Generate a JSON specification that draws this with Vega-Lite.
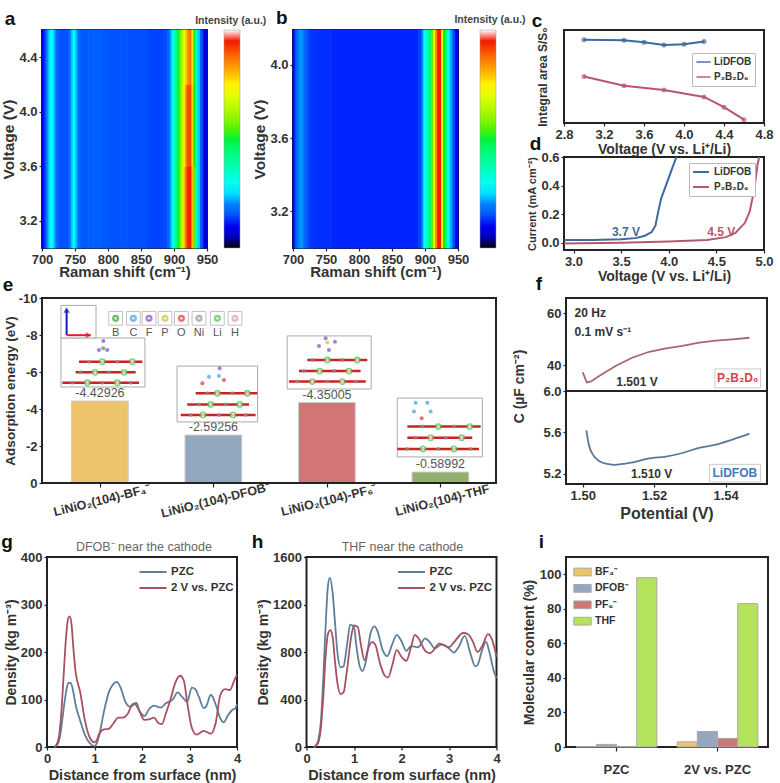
{
"$schema":"https://vega.github.io/schema/vega-lite/v6.json",
"background":"white",
"padding":{"left":0,"top":8,"right":0,"bottom":0},
"config":{
 "view":{"stroke":"#222","strokeWidth":2},
 "font":"Liberation Sans",
 "axis":{"grid":false,"labelFont":"Liberation Sans","labelFontWeight":"bold","labelFontSize":13,"labelColor":"#333","titleFont":"Liberation Sans","titleFontWeight":"bold","titleFontSize":14,"titleColor":"#333","tickColor":"#222","tickSize":3,"tickWidth":1.2,"domain":false,"labelPadding":2,"labelFlush":false,"labelOverlap":false},
 "legend":{"labelFont":"Liberation Sans","labelFontWeight":"bold","labelColor":"#333"}
},
"bounds":"flush","spacing":527,
"resolve":{"scale":{"color":"independent"},"legend":{"color":"independent"}},
"vconcat":[
 {"bounds":"flush","spacing":268,
 "resolve":{"scale":{"color":"independent"},"legend":{"color":"independent"}},
 "vconcat":[
 {"bounds":"flush","spacing":522,
  "resolve":{"scale":{"color":"independent"},"legend":{"color":"independent"}},
  "hconcat":[
  {"bounds":"flush","spacing":86,
   "resolve":{"scale":{"color":"independent"},"legend":{"color":"independent"}},
   "hconcat":[
   {"width":165,"height":218,
    "layer":[
     {"data":{"name":"heatA","values":[
      {"x":700,"x2":703,"v":3.0,"v2":4.6,"i":0.1},{"x":703,"x2":706,"v":3.0,"v2":4.6,"i":0.13},{"x":706,"x2":709,"v":3.0,"v2":4.6,"i":0.18},{"x":709,"x2":712,"v":3.0,"v2":4.6,"i":0.23},{"x":712,"x2":716,"v":3.0,"v2":4.6,"i":0.27},{"x":716,"x2":719,"v":3.0,"v2":4.6,"i":0.26},{"x":719,"x2":722,"v":3.0,"v2":4.6,"i":0.21},{"x":722,"x2":726,"v":3.0,"v2":4.6,"i":0.17},{"x":726,"x2":735,"v":3.0,"v2":4.6,"i":0.15},{"x":735,"x2":741,"v":3.0,"v2":4.6,"i":0.155},{"x":741,"x2":745,"v":3.0,"v2":4.6,"i":0.19},{"x":745,"x2":748,"v":3.0,"v2":4.6,"i":0.25},{"x":748,"x2":751,"v":3.0,"v2":4.6,"i":0.27},{"x":751,"x2":754,"v":3.0,"v2":4.6,"i":0.23},{"x":754,"x2":758,"v":3.0,"v2":4.6,"i":0.18},{"x":758,"x2":770,"v":3.0,"v2":4.6,"i":0.16},{"x":770,"x2":790,"v":3.0,"v2":4.6,"i":0.165},{"x":790,"x2":800,"v":3.0,"v2":4.6,"i":0.16},{"x":800,"x2":830,"v":3.0,"v2":4.6,"i":0.155},{"x":830,"x2":860,"v":3.0,"v2":4.6,"i":0.15},{"x":860,"x2":885,"v":3.0,"v2":4.6,"i":0.14},{"x":885,"x2":890,"v":3.0,"v2":4.6,"i":0.145},{"x":890,"x2":894,"v":3.0,"v2":4.6,"i":0.17},{"x":894,"x2":897,"v":3.0,"v2":4.6,"i":0.22},{"x":897,"x2":900,"v":3.0,"v2":4.6,"i":0.29},{"x":900,"x2":903,"v":3.0,"v2":4.6,"i":0.36},{"x":903,"x2":906,"v":3.0,"v2":4.6,"i":0.44},{"x":906,"x2":909,"v":3.0,"v2":4.6,"i":0.5},{"x":909,"x2":912,"v":3.0,"v2":4.6,"i":0.58},
      {"x":912,"x2":915,"v":3.0,"v2":3.6,"i":0.68},{"x":915,"x2":918,"v":3.0,"v2":3.6,"i":0.8},{"x":918,"x2":921,"v":3.0,"v2":3.6,"i":0.9},{"x":921,"x2":924,"v":3.0,"v2":3.6,"i":0.94},{"x":924,"x2":927,"v":3.0,"v2":3.6,"i":0.95},{"x":927,"x2":930,"v":3.0,"v2":3.6,"i":0.8},{"x":930,"x2":933,"v":3.0,"v2":3.6,"i":0.55},{"x":933,"x2":936,"v":3.0,"v2":3.6,"i":0.35},
      {"x":912,"x2":915,"v":3.6,"v2":4.2,"i":0.66},{"x":915,"x2":918,"v":3.6,"v2":4.2,"i":0.76},{"x":918,"x2":921,"v":3.6,"v2":4.2,"i":0.87},{"x":921,"x2":924,"v":3.6,"v2":4.2,"i":0.91},{"x":924,"x2":927,"v":3.6,"v2":4.2,"i":0.91},{"x":927,"x2":930,"v":3.6,"v2":4.2,"i":0.78},{"x":930,"x2":933,"v":3.6,"v2":4.2,"i":0.52},{"x":933,"x2":936,"v":3.6,"v2":4.2,"i":0.34},
      {"x":912,"x2":915,"v":4.2,"v2":4.6,"i":0.64},{"x":915,"x2":918,"v":4.2,"v2":4.6,"i":0.72},{"x":918,"x2":921,"v":4.2,"v2":4.6,"i":0.8},{"x":921,"x2":924,"v":4.2,"v2":4.6,"i":0.85},{"x":924,"x2":927,"v":4.2,"v2":4.6,"i":0.87},{"x":927,"x2":930,"v":4.2,"v2":4.6,"i":0.76},{"x":930,"x2":933,"v":4.2,"v2":4.6,"i":0.5},{"x":933,"x2":936,"v":4.2,"v2":4.6,"i":0.33},
      {"x":936,"x2":940,"v":3.0,"v2":4.6,"i":0.24},{"x":940,"x2":945,"v":3.0,"v2":4.6,"i":0.15},{"x":945,"x2":950,"v":3.0,"v2":4.6,"i":0.08}]},
      "mark":{"type":"rect","strokeWidth":0.8},
      "encoding":{
       "x":{"field":"x","type":"quantitative","scale":{"domain":[700,950],"nice":false},"axis":{"values":[700,750,800,850,900,950],"tickCount":12,"labelOverlap":false,"title":"Raman shift (cm⁻¹)","titleFontSize":15,"titlePadding":-2}},
       "x2":{"field":"x2"},
       "y":{"field":"v","type":"quantitative","scale":{"domain":[3.0,4.6],"nice":false},"axis":{"values":[3.2,3.6,4.0,4.4],"tickCount":12,"labelOverlap":false,"format":".1f","title":"Voltage (V)","titleFontSize":15.5,"titlePadding":2}},
       "y2":{"field":"v2"},
       "stroke":{"field":"i","type":"quantitative","legend":null,"scale":{"domain":[0,0.018,0.022,0.06,0.11,0.2,0.27,0.4,0.52,0.74,0.84,0.93,0.975,0.985,1],"range":["#000000","#000000","#00008c","#0000c8","#0000ff","#0080ff","#00ffff","#00ff9a","#00f000","#ffff00","#ff9000","#f52000","#f01000","#ffffff","#ffffff"]}},
       "color":{"field":"i","type":"quantitative","scale":{"domain":[0,0.018,0.022,0.06,0.11,0.2,0.27,0.4,0.52,0.74,0.84,0.93,0.975,0.985,1],"range":["#000000","#000000","#00008c","#0000c8","#0000ff","#0080ff","#00ffff","#00ff9a","#00f000","#ffff00","#ff9000","#f52000","#f01000","#ffffff","#ffffff"]},
        "legend":{"orient":"none","legendX":182,"legendY":0,"title":null,"gradientLength":218,"gradientThickness":16,"labelExpr":"''","tickCount":50,"gradientStrokeColor":"#999","gradientStrokeWidth":0.5}}
      }},
     {"data":{"values":[{"x":651.5,"y":4.68,"t":"a"}]},"mark":{"type":"text","fontSize":19,"fontWeight":"bold","color":"#111"},"encoding":{"x":{"field":"x","type":"quantitative"},"y":{"field":"y","type":"quantitative"},"text":{"field":"t"}}},
     {"data":{"values":[{"x":986,"y":4.668,"t":"Intensity (a.u.)"}]},"mark":{"type":"text","fontSize":10.5,"fontWeight":"bold","color":"#444"},"encoding":{"x":{"field":"x","type":"quantitative"},"y":{"field":"y","type":"quantitative"},"text":{"field":"t"}}}
    ]},
   {"width":165,"height":218,
    "layer":[
     {"data":{"name":"heatB","values":[
      {"x":700,"x2":703,"i":0.1},{"x":703,"x2":706,"i":0.15},{"x":706,"x2":710,"i":0.19},{"x":710,"x2":716,"i":0.21},{"x":716,"x2":720,"i":0.18},{"x":720,"x2":725,"i":0.15},{"x":725,"x2":735,"i":0.13},{"x":735,"x2":760,"i":0.125},{"x":760,"x2":890,"i":0.12},{"x":890,"x2":895,"i":0.14},{"x":895,"x2":898,"i":0.2},{"x":898,"x2":901,"i":0.28},{"x":901,"x2":904,"i":0.34},{"x":904,"x2":907,"i":0.4},{"x":907,"x2":910,"i":0.47},{"x":910,"x2":913,"i":0.56},{"x":913,"x2":916,"i":0.72},{"x":916,"x2":919,"i":0.85},{"x":919,"x2":922,"i":0.94},{"x":922,"x2":925,"i":0.93},{"x":925,"x2":928,"i":0.7},{"x":928,"x2":931,"i":0.52},{"x":931,"x2":934,"i":0.42},{"x":934,"x2":938,"i":0.3},{"x":938,"x2":942,"i":0.22},{"x":942,"x2":946,"i":0.15},{"x":946,"x2":950,"i":0.11}]},
      "mark":{"type":"rect","strokeWidth":0.8},
      "encoding":{
       "x":{"field":"x","type":"quantitative","scale":{"domain":[700,950],"nice":false},"axis":{"values":[700,750,800,850,900,950],"tickCount":12,"labelOverlap":false,"title":"Raman shift (cm⁻¹)","titleFontSize":15,"titlePadding":-2}},
       "x2":{"field":"x2"},
       "y":{"datum":3.0,"type":"quantitative","scale":{"domain":[3.0,4.19],"nice":false},"axis":{"values":[3.2,3.6,4.0],"tickCount":12,"labelOverlap":false,"format":".1f","title":"Voltage (V)","titleFontSize":15.5,"titlePadding":2}},
       "y2":{"datum":4.19},
       "stroke":{"field":"i","type":"quantitative","legend":null,"scale":{"domain":[0,0.018,0.022,0.06,0.11,0.2,0.27,0.4,0.52,0.74,0.84,0.93,0.975,0.985,1],"range":["#000000","#000000","#00008c","#0000c8","#0000ff","#0080ff","#00ffff","#00ff9a","#00f000","#ffff00","#ff9000","#f52000","#f01000","#ffffff","#ffffff"]}},
       "color":{"field":"i","type":"quantitative","scale":{"domain":[0,0.018,0.022,0.06,0.11,0.2,0.27,0.4,0.52,0.74,0.84,0.93,0.975,0.985,1],"range":["#000000","#000000","#00008c","#0000c8","#0000ff","#0080ff","#00ffff","#00ff9a","#00f000","#ffff00","#ff9000","#f52000","#f01000","#ffffff","#ffffff"]},
        "legend":{"orient":"none","legendX":187,"legendY":0,"title":null,"gradientLength":218,"gradientThickness":16,"labelExpr":"''","tickCount":50,"gradientStrokeColor":"#999","gradientStrokeWidth":0.5}}
      }},
     {"data":{"values":[{"x":683,"y":4.255,"t":"b"}]},"mark":{"type":"text","fontSize":19,"fontWeight":"bold","color":"#111"},"encoding":{"x":{"field":"x","type":"quantitative"},"y":{"field":"y","type":"quantitative"},"text":{"field":"t"}}},
     {"data":{"values":[{"x":998.5,"y":4.245,"t":"Intensity (a.u.)"}]},"mark":{"type":"text","fontSize":10.5,"fontWeight":"bold","color":"#444"},"encoding":{"x":{"field":"x","type":"quantitative"},"y":{"field":"y","type":"quantitative"},"text":{"field":"t"}}}
    ]}
  ]},
  {"bounds":"flush","spacing":34,
   "resolve":{"scale":{"color":"independent"},"legend":{"color":"independent"}},
   "vconcat":[
   {"width":200,"height":93,
    "layer":[
     {"data":{"values":[
      {"v":3.0,"s":0.894,"k":"LiDFOB"},{"v":3.4,"s":0.89,"k":"LiDFOB"},{"v":3.6,"s":0.869,"k":"LiDFOB"},{"v":3.8,"s":0.84,"k":"LiDFOB"},{"v":4.0,"s":0.847,"k":"LiDFOB"},{"v":4.2,"s":0.876,"k":"LiDFOB"},
      {"v":3.0,"s":0.5,"k":"P₂B₂D₆"},{"v":3.4,"s":0.4,"k":"P₂B₂D₆"},{"v":3.8,"s":0.356,"k":"P₂B₂D₆"},{"v":4.2,"s":0.28,"k":"P₂B₂D₆"},{"v":4.4,"s":0.17,"k":"P₂B₂D₆"},{"v":4.6,"s":0.036,"k":"P₂B₂D₆"}]},
      "layer":[
       {"mark":{"type":"line","strokeWidth":2},"encoding":{
        "x":{"field":"v","type":"quantitative","scale":{"domain":[2.8,4.8],"nice":false},"axis":{"values":[2.8,3.2,3.6,4.0,4.4,4.8],"tickCount":12,"labelOverlap":false,"format":".1f","title":"Voltage (V vs. Li⁺/Li)","titlePadding":1}},
        "y":{"field":"s","type":"quantitative","scale":{"domain":[0,1],"nice":false},"axis":{"labels":false,"ticks":false,"title":"Integral area S/S₀","titleFontSize":12,"titlePadding":15}},
        "color":{"field":"k","type":"nominal","scale":{"domain":["LiDFOB","P₂B₂D₆"],"range":["#3d6a9e","#b5596a"]},"legend":{"orient":"none","legendX":128,"legendY":23,"title":null,"fillColor":"white","strokeColor":"#bbb","padding":3,"labelFontSize":10,"symbolType":"stroke","symbolSize":200,"symbolStrokeWidth":2,"clipHeight":12,"rowPadding":3,"labelOffset":2}}}},
       {"mark":{"type":"point","filled":true,"size":25},"encoding":{"x":{"field":"v","type":"quantitative"},"y":{"field":"s","type":"quantitative"},"color":{"field":"k","type":"nominal"}}}
      ]},
     {"data":{"values":[{"x":2.53,"y":1.1,"t":"c"}]},"mark":{"type":"text","fontSize":19,"fontWeight":"bold","color":"#111"},"encoding":{"x":{"field":"x","type":"quantitative"},"y":{"field":"y","type":"quantitative"},"text":{"field":"t"}}}
    ]},
   {"width":200,"height":93,
    "layer":[
     {"data":{"values":[
      {"v":2.9,"c":0.02,"k":"LiDFOB"},{"v":3.2,"c":0.02,"k":"LiDFOB"},{"v":3.5,"c":0.025,"k":"LiDFOB"},{"v":3.65,"c":0.033,"k":"LiDFOB"},{"v":3.75,"c":0.05,"k":"LiDFOB"},{"v":3.82,"c":0.075,"k":"LiDFOB"},{"v":3.86,"c":0.12,"k":"LiDFOB"},{"v":3.89,"c":0.22,"k":"LiDFOB"},{"v":3.92,"c":0.31,"k":"LiDFOB"},{"v":3.97,"c":0.4,"k":"LiDFOB"},{"v":4.03,"c":0.51,"k":"LiDFOB"},{"v":4.08,"c":0.6,"k":"LiDFOB"},
      {"v":2.9,"c":-0.005,"k":"P₂B₂D₆"},{"v":3.5,"c":0,"k":"P₂B₂D₆"},{"v":4.0,"c":0.01,"k":"P₂B₂D₆"},{"v":4.4,"c":0.02,"k":"P₂B₂D₆"},{"v":4.6,"c":0.04,"k":"P₂B₂D₆"},{"v":4.7,"c":0.07,"k":"P₂B₂D₆"},{"v":4.8,"c":0.14,"k":"P₂B₂D₆"},{"v":4.85,"c":0.22,"k":"P₂B₂D₆"},{"v":4.9,"c":0.38,"k":"P₂B₂D₆"},{"v":4.93,"c":0.54,"k":"P₂B₂D₆"},{"v":4.95,"c":0.6,"k":"P₂B₂D₆"}]},
      "mark":{"type":"line","strokeWidth":2,"clip":true},"encoding":{
       "x":{"field":"v","type":"quantitative","scale":{"domain":[2.9,5.0],"nice":false},"axis":{"values":[3.0,3.5,4.0,4.5,5.0],"tickCount":12,"labelOverlap":false,"format":".1f","title":"Voltage (V vs. Li⁺/Li)","titlePadding":1}},
       "y":{"field":"c","type":"quantitative","scale":{"domain":[-0.05,0.6],"nice":false},"axis":{"values":[0,0.2,0.4,0.6],"tickCount":12,"labelOverlap":false,"format":".1f","title":"Current (mA cm⁻²)","titleFontSize":11,"titlePadding":3}},
       "color":{"field":"k","type":"nominal","scale":{"domain":["LiDFOB","P₂B₂D₆"],"range":["#3d6a9e","#b5596a"]},"legend":{"orient":"none","legendX":125,"legendY":6,"title":null,"fillColor":"white","strokeColor":"#bbb","padding":3,"labelFontSize":10,"symbolType":"stroke","symbolSize":250,"symbolStrokeWidth":2,"clipHeight":12,"rowPadding":3}}}},
     {"data":{"values":[{"x":3.55,"y":0.075,"t":"3.7 V","k":"LiDFOB"},{"x":4.55,"y":0.075,"t":"4.5 V","k":"P₂B₂D₆"}]},"mark":{"type":"text","fontSize":12,"fontWeight":"bold"},"encoding":{"x":{"field":"x","type":"quantitative"},"y":{"field":"y","type":"quantitative"},"text":{"field":"t"},"color":{"field":"k","type":"nominal","legend":null}}},
     {"data":{"values":[{"x":2.6,"y":0.69,"t":"d"}]},"mark":{"type":"text","fontSize":19,"fontWeight":"bold","color":"#111"},"encoding":{"x":{"field":"x","type":"quantitative"},"y":{"field":"y","type":"quantitative"},"text":{"field":"t"}}}
    ]}
  ]}
 ]},
 {"bounds":"flush","spacing":70,
  "resolve":{"scale":{"color":"independent"},"legend":{"color":"independent"}},
  "hconcat":[
  {"width":454,"height":185,"view":{"stroke":"#222","strokeWidth":2},
   "layer":[
    {"data":{"values":[
     {"n":"BF4","x0":0.26,"x1":0.76,"e":-4.42926,"t":"-4.42926","xc":0.51},{"n":"DFOB","x0":1.26,"x1":1.76,"e":-2.59256,"t":"-2.59256","xc":1.51},{"n":"PF6","x0":2.26,"x1":2.76,"e":-4.35005,"t":"-4.35005","xc":2.51},{"n":"THF","x0":3.26,"x1":3.76,"e":-0.58992,"t":"-0.58992","xc":3.51}]},
     "layer":[
      {"mark":{"type":"rect","stroke":"#ccc","strokeWidth":1},"encoding":{
       "x":{"field":"x0","type":"quantitative","scale":{"domain":[0,4],"nice":false},"axis":{"values":[0.51,1.51,2.51,3.51],"tickCount":12,"labelOverlap":false,"labelExpr":"['LiNiO₂(104)-BF₄⁻','LiNiO₂(104)-DFOB⁻','LiNiO₂(104)-PF₆⁻','LiNiO₂(104)-THF'][floor(datum.value)]","labelAngle":-14,"labelAlign":"center","labelBaseline":"top","labelFontSize":12.5,"labelPadding":7,"title":null,"tickSize":4}},
       "x2":{"field":"x1"},
       "y":{"field":"e","type":"quantitative","scale":{"domain":[0,-10],"nice":false},"axis":{"values":[0,-2,-4,-6,-8,-10],"tickCount":12,"labelOverlap":false,"labelExpr":"toString(datum.value)","title":"Adsorption energy (eV)","titleFontSize":13.5,"titlePadding":1}},
       "y2":{"datum":0},
       "color":{"field":"n","type":"nominal","legend":null,"scale":{"domain":["BF4","DFOB","PF6","THF","B","C","F","P","O","Ni","Li","H"],"range":["#eec46a","#93a8bf","#d27576","#94b071","#2ca02c","#38a0d8","#8a40c8","#c8c030","#e03030","#909090","#50c050","#d0a0a0"]}}}},
      {"mark":{"type":"text","dy":-8,"fontSize":12.5,"color":"#555"},"encoding":{"x":{"field":"xc","type":"quantitative"},"y":{"field":"e","type":"quantitative"},"text":{"field":"t"}}}
     ]},
    {"data":{"values":[{"x":0.167,"x2":0.907,"y":-7.84,"y2":-5.19},{"x":1.19,"x2":1.9,"y":-6.32,"y2":-3.3},{"x":2.16,"x2":2.9,"y":-7.95,"y2":-5.08},{"x":3.13,"x2":3.88,"y":-4.59,"y2":-1.41},{"x":0.167,"x2":0.476,"y":-9.6,"y2":-7.84}]},
     "mark":{"type":"rect","fill":"white","stroke":"#aaa","strokeWidth":1},"encoding":{"x":{"field":"x","type":"quantitative"},"x2":{"field":"x2"},"y":{"field":"y","type":"quantitative"},"y2":{"field":"y2"}}},
    {"data":{"values":[{"x":0.326,"x2":0.884,"y":-6.56},{"x":0.296,"x2":0.825,"y":-5.98},{"x":0.179,"x2":0.855,"y":-5.42},{"x":1.354,"x2":1.897,"y":-4.85},{"x":1.28,"x2":1.824,"y":-4.25},{"x":1.222,"x2":1.882,"y":-3.68},{"x":2.338,"x2":2.866,"y":-6.65},{"x":2.264,"x2":2.807,"y":-6.05},{"x":2.176,"x2":2.852,"y":-5.48},{"x":3.219,"x2":3.865,"y":-3.05},{"x":3.219,"x2":3.791,"y":-2.45},{"x":3.13,"x2":3.85,"y":-1.84}]},
     "mark":{"type":"rule","color":"#cc2222","strokeWidth":2.5},"encoding":{"x":{"field":"x","type":"quantitative"},"x2":{"field":"x2"},"y":{"field":"y","type":"quantitative"}}},
    {"data":{"values":[{"x":0.414,"y":-6.56,"n":"Ni"},{"x":0.664,"y":-6.56,"n":"Ni"},{"x":0.34,"y":-5.98,"n":"Ni"},{"x":0.59,"y":-5.98,"n":"Ni"},{"x":0.267,"y":-5.42,"n":"Ni"},{"x":0.531,"y":-5.42,"n":"Ni"},{"x":0.781,"y":-5.42,"n":"Ni"},{"x":1.457,"y":-4.85,"n":"Ni"},{"x":1.677,"y":-4.85,"n":"Ni"},{"x":1.383,"y":-4.25,"n":"Ni"},{"x":1.618,"y":-4.25,"n":"Ni"},{"x":1.31,"y":-3.68,"n":"Ni"},{"x":1.559,"y":-3.68,"n":"Ni"},{"x":1.794,"y":-3.68,"n":"Ni"},{"x":2.382,"y":-6.65,"n":"Ni"},{"x":2.646,"y":-6.65,"n":"Ni"},{"x":2.308,"y":-6.05,"n":"Ni"},{"x":2.573,"y":-6.05,"n":"Ni"},{"x":2.25,"y":-5.48,"n":"Ni"},{"x":2.514,"y":-5.48,"n":"Ni"},{"x":2.763,"y":-5.48,"n":"Ni"},{"x":3.351,"y":-3.05,"n":"Ni"},{"x":3.63,"y":-3.05,"n":"Ni"},{"x":3.292,"y":-2.45,"n":"Ni"},{"x":3.556,"y":-2.45,"n":"Ni"},{"x":3.219,"y":-1.84,"n":"Ni"},{"x":3.492,"y":-1.84,"n":"Ni"},{"x":3.776,"y":-1.84,"n":"Ni"},
     {"x":0.502,"y":-7.19,"n":"F"},{"x":0.575,"y":-7.19,"n":"F"},{"x":0.54,"y":-7.28,"n":"B"},{"x":0.54,"y":-7.68,"n":"F"},{"x":1.413,"y":-5.39,"n":"O"},{"x":1.471,"y":-5.75,"n":"C"},{"x":1.559,"y":-5.78,"n":"C"},{"x":1.565,"y":-6.2,"n":"F"},{"x":1.603,"y":-5.57,"n":"O"},{"x":2.514,"y":-7.59,"n":"P"},{"x":2.44,"y":-7.41,"n":"F"},{"x":2.581,"y":-7.64,"n":"F"},{"x":2.499,"y":-7.82,"n":"F"},{"x":2.528,"y":-7.19,"n":"F"},{"x":3.292,"y":-4.34,"n":"C"},{"x":3.395,"y":-4.34,"n":"C"},{"x":3.424,"y":-3.86,"n":"C"},{"x":3.345,"y":-3.5,"n":"O"},{"x":3.277,"y":-3.86,"n":"C"}]},
     "mark":{"type":"point","filled":true,"size":16},"encoding":{"x":{"field":"x","type":"quantitative"},"y":{"field":"y","type":"quantitative"},"color":{"field":"n","type":"nominal","legend":null}}},
    {"data":{"values":[{"x":0.531,"y":-6.56},{"x":0.796,"y":-6.56},{"x":0.467,"y":-5.98},{"x":0.722,"y":-5.98},{"x":0.399,"y":-5.42},{"x":0.664,"y":-5.42},{"x":1.545,"y":-4.85},{"x":1.809,"y":-4.85},{"x":1.486,"y":-4.25},{"x":1.741,"y":-4.25},{"x":1.418,"y":-3.68},{"x":1.683,"y":-3.68},{"x":2.514,"y":-6.65},{"x":2.778,"y":-6.65},{"x":2.446,"y":-6.05},{"x":2.705,"y":-6.05},{"x":2.382,"y":-5.48},{"x":2.646,"y":-5.48},{"x":3.492,"y":-3.05},{"x":3.768,"y":-3.05},{"x":3.424,"y":-2.45},{"x":3.697,"y":-2.45},{"x":3.357,"y":-1.84},{"x":3.63,"y":-1.84}]},
     "mark":{"type":"point","filled":false,"fill":"white","stroke":"#50c050","strokeWidth":1.6,"size":28},"encoding":{"x":{"field":"x","type":"quantitative"},"y":{"field":"y","type":"quantitative"}}},
    {"data":{"values":[{"x":0.649,"y":-8.9,"n":"B"},{"x":0.805,"y":-8.9,"n":"C"},{"x":0.943,"y":-8.9,"n":"F"},{"x":1.084,"y":-8.9,"n":"P"},{"x":1.228,"y":-8.9,"n":"O"},{"x":1.383,"y":-8.9,"n":"Ni"},{"x":1.545,"y":-8.9,"n":"Li"},{"x":1.7,"y":-8.9,"n":"H"}]},
     "layer":[
      {"mark":{"type":"square","filled":true,"fill":"white","stroke":"#aaa","strokeWidth":1,"size":190},"encoding":{"x":{"field":"x","type":"quantitative"},"y":{"field":"y","type":"quantitative"}}},
      {"mark":{"type":"point","filled":true,"size":50},"encoding":{"x":{"field":"x","type":"quantitative"},"y":{"field":"y","type":"quantitative"},"color":{"field":"n","type":"nominal","legend":null}}},
      {"mark":{"type":"point","filled":true,"color":"white","size":8},"encoding":{"x":{"field":"x","type":"quantitative"},"y":{"field":"y","type":"quantitative"}}},
      {"mark":{"type":"text","dy":15,"fontSize":11,"color":"#555"},"encoding":{"x":{"field":"x","type":"quantitative"},"y":{"field":"y","type":"quantitative"},"text":{"field":"n"}}}
     ]},
    {"data":{"values":[{"x":0.217,"y":-7.99,"y2":-9.39}]},"mark":{"type":"rule","color":"#1020c0","strokeWidth":2},"encoding":{"x":{"field":"x","type":"quantitative"},"y":{"field":"y","type":"quantitative"},"y2":{"field":"y2"}}},
    {"data":{"values":[{"x":0.217,"x2":0.429,"y":-7.99}]},"mark":{"type":"rule","color":"#e02020","strokeWidth":2},"encoding":{"x":{"field":"x","type":"quantitative"},"x2":{"field":"x2"},"y":{"field":"y","type":"quantitative"}}},
    {"data":{"values":[{"x":0.217,"y":-9.35}]},"mark":{"type":"point","shape":"triangle-up","filled":true,"color":"#1020c0","size":40},"encoding":{"x":{"field":"x","type":"quantitative"},"y":{"field":"y","type":"quantitative"}}},
    {"data":{"values":[{"x":0.41,"y":-7.99}]},"mark":{"type":"point","shape":"triangle-right","filled":true,"color":"#e02020","size":40},"encoding":{"x":{"field":"x","type":"quantitative"},"y":{"field":"y","type":"quantitative"}}},
    {"data":{"values":[{"x":0,"x2":4,"y":-10,"y2":0}]},"mark":{"type":"rect","fillOpacity":0,"stroke":"#222","strokeWidth":2},"encoding":{"x":{"field":"x","type":"quantitative"},"x2":{"field":"x2"},"y":{"field":"y","type":"quantitative"},"y2":{"field":"y2"}}},
    {"data":{"values":[{"x":-0.3,"y":-10.7,"t":"e"}]},"mark":{"type":"text","fontSize":19,"fontWeight":"bold","color":"#111"},"encoding":{"x":{"field":"x","type":"quantitative"},"y":{"field":"y","type":"quantitative"},"text":{"field":"t"}}}
   ]},
  {"bounds":"flush","spacing":0,"vconcat":[
   {"width":201,"height":93,
    "layer":[
     {"data":{"values":[{"v":1.5,"c":37.2},{"v":1.5011,"c":33.3},{"v":1.5023,"c":33.7},{"v":1.5047,"c":35.9},{"v":1.5093,"c":39.7},{"v":1.514,"c":42.9},{"v":1.5186,"c":45.1},{"v":1.5233,"c":46.4},{"v":1.5279,"c":47.4},{"v":1.5326,"c":48.6},{"v":1.5372,"c":49.4},{"v":1.5419,"c":49.9},{"v":1.5467,"c":50.5}]},
      "mark":{"type":"line","color":"#a5676d","strokeWidth":1.8},"encoding":{
       "x":{"field":"v","type":"quantitative","scale":{"domain":[1.4953,1.5516],"nice":false},"axis":null},
       "y":{"field":"c","type":"quantitative","scale":{"domain":[30,65.8],"nice":false},"axis":{"values":[40,60],"tickCount":12,"labelOverlap":false,"title":"C (µF cm⁻²)","titleFontSize":14,"titleY":88,"titlePadding":20}}}},
     {"data":{"values":[{"x":1.537,"x2":1.5498,"y":31.2,"y2":38.5}]},"mark":{"type":"rect","fill":"white","stroke":"#ccc"},"encoding":{"x":{"field":"x","type":"quantitative"},"x2":{"field":"x2"},"y":{"field":"y","type":"quantitative"},"y2":{"field":"y2"}}},
     {"data":{"values":[{"x":1.4977,"y":60,"t":"20 Hz"},{"x":1.4977,"y":52.8,"t":"0.1 mV s⁻¹"}]},"mark":{"type":"text","align":"left","fontSize":12,"fontWeight":"bold","color":"#333"},"encoding":{"x":{"field":"x","type":"quantitative"},"y":{"field":"y","type":"quantitative"},"text":{"field":"t"}}},
     {"data":{"values":[{"x":1.5152,"y":33.3,"t":"1.501 V"}]},"mark":{"type":"text","fontSize":12,"fontWeight":"bold","color":"#333"},"encoding":{"x":{"field":"x","type":"quantitative"},"y":{"field":"y","type":"quantitative"},"text":{"field":"t"}}},
     {"data":{"values":[{"x":1.5434,"y":34.9,"t":"P₂B₂D₆"}]},"mark":{"type":"text","fontSize":12,"fontWeight":"bold","color":"#d9404a"},"encoding":{"x":{"field":"x","type":"quantitative"},"y":{"field":"y","type":"quantitative"},"text":{"field":"t"}}},
     {"data":{"values":[{"x":1.4877,"y":71.2,"t":"f"}]},"mark":{"type":"text","fontSize":19,"fontWeight":"bold","color":"#111"},"encoding":{"x":{"field":"x","type":"quantitative"},"y":{"field":"y","type":"quantitative"},"text":{"field":"t"}}}
    ]},
   {"width":201,"height":93,
    "layer":[
     {"data":{"values":[{"v":1.501,"c":5.62},{"v":1.5017,"c":5.48},{"v":1.5028,"c":5.386},{"v":1.5047,"c":5.32},{"v":1.5065,"c":5.296},{"v":1.5088,"c":5.286},{"v":1.514,"c":5.31},{"v":1.5186,"c":5.347},{"v":1.5233,"c":5.366},{"v":1.5279,"c":5.4},{"v":1.5326,"c":5.45},{"v":1.5372,"c":5.48},{"v":1.5419,"c":5.53},{"v":1.5467,"c":5.587}]},
      "mark":{"type":"line","color":"#567a9e","strokeWidth":1.8,"interpolate":"monotone"},"encoding":{
       "x":{"field":"v","type":"quantitative","scale":{"domain":[1.4953,1.5516],"nice":false},"axis":{"values":[1.5,1.52,1.54],"tickCount":12,"labelOverlap":false,"format":".2f","title":"Potential (V)","titleFontSize":16,"titlePadding":3}},
       "y":{"field":"c","type":"quantitative","scale":{"domain":[5.1,6.0],"nice":false},"axis":{"values":[5.2,5.6,6.0],"tickCount":12,"labelOverlap":false,"format":".1f","title":null}}}},
     {"data":{"values":[{"x":1.5355,"x2":1.5498,"y":5.12,"y2":5.29}]},"mark":{"type":"rect","fill":"white","stroke":"#ccc"},"encoding":{"x":{"field":"x","type":"quantitative"},"x2":{"field":"x2"},"y":{"field":"y","type":"quantitative"},"y2":{"field":"y2"}}},
     {"data":{"values":[{"x":1.5426,"y":5.206,"t":"LiDFOB"}]},"mark":{"type":"text","fontSize":12,"fontWeight":"bold","color":"#3f78c0"},"encoding":{"x":{"field":"x","type":"quantitative"},"y":{"field":"y","type":"quantitative"},"text":{"field":"t"}}},
     {"data":{"values":[{"x":1.5193,"y":5.2,"t":"1.510 V"}]},"mark":{"type":"text","fontSize":12,"fontWeight":"bold","color":"#333"},"encoding":{"x":{"field":"x","type":"quantitative"},"y":{"field":"y","type":"quantitative"},"text":{"field":"t"}}}
    ]}
  ]}
 ]}
 ]},
 {"bounds":"flush","spacing":4,
  "resolve":{"scale":{"color":"independent"},"legend":{"color":"independent"}},
  "hconcat":[
  {"width":1,"height":1,"view":{"stroke":null},"data":{"values":[]},"mark":"point"},
  {"bounds":"flush","spacing":69.5,
   "resolve":{"scale":{"color":"independent"},"legend":{"color":"independent"}},
   "hconcat":[
   {"width":190,"height":190,
    "layer":[
     {"data":{"values":[
      {"d":0.15,"r":0,"k":"PZC"},{"d":0.2,"r":3,"k":"PZC"},{"d":0.25,"r":12,"k":"PZC"},{"d":0.3,"r":40,"k":"PZC"},{"d":0.35,"r":80,"k":"PZC"},{"d":0.4,"r":115,"k":"PZC"},{"d":0.45,"r":135,"k":"PZC"},{"d":0.5,"r":135,"k":"PZC"},{"d":0.55,"r":118,"k":"PZC"},{"d":0.6,"r":90,"k":"PZC"},{"d":0.7,"r":55,"k":"PZC"},{"d":0.8,"r":25,"k":"PZC"},{"d":0.9,"r":8,"k":"PZC"},{"d":1.0,"r":2,"k":"PZC"},{"d":1.05,"r":8,"k":"PZC"},{"d":1.1,"r":25,"k":"PZC"},{"d":1.2,"r":75,"k":"PZC"},{"d":1.3,"r":115,"k":"PZC"},{"d":1.4,"r":133,"k":"PZC"},{"d":1.47,"r":137,"k":"PZC"},{"d":1.55,"r":125,"k":"PZC"},{"d":1.65,"r":95,"k":"PZC"},{"d":1.75,"r":85,"k":"PZC"},{"d":1.85,"r":90,"k":"PZC"},{"d":1.95,"r":75,"k":"PZC"},{"d":2.05,"r":65,"k":"PZC"},{"d":2.15,"r":80,"k":"PZC"},{"d":2.25,"r":87,"k":"PZC"},{"d":2.4,"r":83,"k":"PZC"},{"d":2.5,"r":92,"k":"PZC"},{"d":2.65,"r":100,"k":"PZC"},{"d":2.75,"r":115,"k":"PZC"},{"d":2.85,"r":105,"k":"PZC"},{"d":2.95,"r":95,"k":"PZC"},{"d":3.05,"r":125,"k":"PZC"},{"d":3.12,"r":122,"k":"PZC"},{"d":3.2,"r":105,"k":"PZC"},{"d":3.3,"r":82,"k":"PZC"},{"d":3.35,"r":85,"k":"PZC"},{"d":3.45,"r":110,"k":"PZC"},{"d":3.55,"r":90,"k":"PZC"},{"d":3.65,"r":60,"k":"PZC"},{"d":3.72,"r":52,"k":"PZC"},{"d":3.8,"r":65,"k":"PZC"},{"d":3.9,"r":78,"k":"PZC"},{"d":3.97,"r":82,"k":"PZC"},{"d":4,"r":90,"k":"PZC"},
      {"d":0.15,"r":0,"k":"2 V vs. PZC"},{"d":0.2,"r":5,"k":"2 V vs. PZC"},{"d":0.25,"r":20,"k":"2 V vs. PZC"},{"d":0.3,"r":70,"k":"2 V vs. PZC"},{"d":0.35,"r":150,"k":"2 V vs. PZC"},{"d":0.4,"r":230,"k":"2 V vs. PZC"},{"d":0.45,"r":272,"k":"2 V vs. PZC"},{"d":0.48,"r":275,"k":"2 V vs. PZC"},{"d":0.52,"r":255,"k":"2 V vs. PZC"},{"d":0.55,"r":215,"k":"2 V vs. PZC"},{"d":0.6,"r":160,"k":"2 V vs. PZC"},{"d":0.7,"r":115,"k":"2 V vs. PZC"},{"d":0.8,"r":55,"k":"2 V vs. PZC"},{"d":0.9,"r":20,"k":"2 V vs. PZC"},{"d":1.0,"r":10,"k":"2 V vs. PZC"},{"d":1.05,"r":15,"k":"2 V vs. PZC"},{"d":1.1,"r":28,"k":"2 V vs. PZC"},{"d":1.2,"r":37,"k":"2 V vs. PZC"},{"d":1.3,"r":38,"k":"2 V vs. PZC"},{"d":1.4,"r":50,"k":"2 V vs. PZC"},{"d":1.5,"r":62,"k":"2 V vs. PZC"},{"d":1.6,"r":62,"k":"2 V vs. PZC"},{"d":1.7,"r":70,"k":"2 V vs. PZC"},{"d":1.8,"r":90,"k":"2 V vs. PZC"},{"d":1.88,"r":93,"k":"2 V vs. PZC"},{"d":1.95,"r":75,"k":"2 V vs. PZC"},{"d":2.05,"r":57,"k":"2 V vs. PZC"},{"d":2.15,"r":58,"k":"2 V vs. PZC"},{"d":2.25,"r":62,"k":"2 V vs. PZC"},{"d":2.35,"r":50,"k":"2 V vs. PZC"},{"d":2.42,"r":48,"k":"2 V vs. PZC"},{"d":2.5,"r":70,"k":"2 V vs. PZC"},{"d":2.6,"r":100,"k":"2 V vs. PZC"},{"d":2.7,"r":135,"k":"2 V vs. PZC"},{"d":2.8,"r":150,"k":"2 V vs. PZC"},{"d":2.88,"r":140,"k":"2 V vs. PZC"},{"d":2.95,"r":95,"k":"2 V vs. PZC"},{"d":3.05,"r":40,"k":"2 V vs. PZC"},{"d":3.15,"r":26,"k":"2 V vs. PZC"},{"d":3.3,"r":34,"k":"2 V vs. PZC"},{"d":3.45,"r":28,"k":"2 V vs. PZC"},{"d":3.55,"r":50,"k":"2 V vs. PZC"},{"d":3.65,"r":110,"k":"2 V vs. PZC"},{"d":3.75,"r":122,"k":"2 V vs. PZC"},{"d":3.85,"r":120,"k":"2 V vs. PZC"},{"d":3.95,"r":142,"k":"2 V vs. PZC"},{"d":4,"r":152,"k":"2 V vs. PZC"}]},
      "mark":{"type":"line","strokeWidth":1.8,"interpolate":"monotone"},"encoding":{
       "x":{"field":"d","type":"quantitative","scale":{"domain":[0,4],"nice":false},"axis":{"values":[0,1,2,3,4],"tickCount":12,"labelOverlap":false,"format":"d","title":"Distance from surface (nm)","titleFontSize":14.5,"titlePadding":3}},
       "y":{"field":"r","type":"quantitative","scale":{"domain":[0,400],"nice":false},"axis":{"values":[0,100,200,300,400],"tickCount":12,"labelOverlap":false,"format":"d","title":"Density (kg m⁻³)","titleFontSize":14,"titlePadding":2}},
       "color":{"field":"k","type":"nominal","scale":{"domain":["PZC","2 V vs. PZC"],"range":["#5f7f9c","#a8505f"]},"legend":{"orient":"none","legendX":91,"legendY":8,"title":null,"labelFontSize":11.5,"symbolType":"stroke","symbolSize":730,"symbolStrokeWidth":2,"clipHeight":14,"rowPadding":2,"labelOffset":3}}}},
     {"data":{"values":[{"x":2.04,"y":421,"t":"DFOB⁻ near the cathode"}]},"mark":{"type":"text","fontSize":12.5,"color":"#666"},"encoding":{"x":{"field":"x","type":"quantitative"},"y":{"field":"y","type":"quantitative"},"text":{"field":"t"}}},
     {"data":{"values":[{"x":-0.84,"y":431.6,"t":"g"}]},"mark":{"type":"text","fontSize":19,"fontWeight":"bold","color":"#111"},"encoding":{"x":{"field":"x","type":"quantitative"},"y":{"field":"y","type":"quantitative"},"text":{"field":"t"}}}
    ]},
   {"width":190,"height":190,
    "layer":[
     {"data":{"values":[
      {"d":0.15,"r":0,"k":"PZC"},{"d":0.2,"r":15,"k":"PZC"},{"d":0.25,"r":60,"k":"PZC"},{"d":0.3,"r":200,"k":"PZC"},{"d":0.35,"r":550,"k":"PZC"},{"d":0.4,"r":1000,"k":"PZC"},{"d":0.45,"r":1350,"k":"PZC"},{"d":0.49,"r":1425,"k":"PZC"},{"d":0.55,"r":1300,"k":"PZC"},{"d":0.6,"r":1050,"k":"PZC"},{"d":0.65,"r":800,"k":"PZC"},{"d":0.72,"r":670,"k":"PZC"},{"d":0.78,"r":680,"k":"PZC"},{"d":0.85,"r":850,"k":"PZC"},{"d":0.92,"r":1030,"k":"PZC"},{"d":1.0,"r":1010,"k":"PZC"},{"d":1.05,"r":850,"k":"PZC"},{"d":1.12,"r":680,"k":"PZC"},{"d":1.18,"r":640,"k":"PZC"},{"d":1.25,"r":720,"k":"PZC"},{"d":1.35,"r":960,"k":"PZC"},{"d":1.43,"r":1015,"k":"PZC"},{"d":1.5,"r":970,"k":"PZC"},{"d":1.6,"r":820,"k":"PZC"},{"d":1.7,"r":765,"k":"PZC"},{"d":1.8,"r":860,"k":"PZC"},{"d":1.9,"r":945,"k":"PZC"},{"d":2,"r":890,"k":"PZC"},{"d":2.1,"r":810,"k":"PZC"},{"d":2.2,"r":850,"k":"PZC"},{"d":2.35,"r":840,"k":"PZC"},{"d":2.5,"r":915,"k":"PZC"},{"d":2.6,"r":880,"k":"PZC"},{"d":2.7,"r":830,"k":"PZC"},{"d":2.85,"r":865,"k":"PZC"},{"d":3,"r":830,"k":"PZC"},{"d":3.1,"r":795,"k":"PZC"},{"d":3.2,"r":840,"k":"PZC"},{"d":3.33,"r":935,"k":"PZC"},{"d":3.45,"r":790,"k":"PZC"},{"d":3.55,"r":680,"k":"PZC"},{"d":3.6,"r":690,"k":"PZC"},{"d":3.7,"r":820,"k":"PZC"},{"d":3.78,"r":885,"k":"PZC"},{"d":3.85,"r":800,"k":"PZC"},{"d":3.95,"r":630,"k":"PZC"},{"d":4,"r":580,"k":"PZC"},
      {"d":0.15,"r":0,"k":"2 V vs. PZC"},{"d":0.2,"r":10,"k":"2 V vs. PZC"},{"d":0.25,"r":40,"k":"2 V vs. PZC"},{"d":0.3,"r":150,"k":"2 V vs. PZC"},{"d":0.35,"r":400,"k":"2 V vs. PZC"},{"d":0.4,"r":750,"k":"2 V vs. PZC"},{"d":0.45,"r":950,"k":"2 V vs. PZC"},{"d":0.5,"r":985,"k":"2 V vs. PZC"},{"d":0.55,"r":930,"k":"2 V vs. PZC"},{"d":0.6,"r":720,"k":"2 V vs. PZC"},{"d":0.65,"r":540,"k":"2 V vs. PZC"},{"d":0.72,"r":445,"k":"2 V vs. PZC"},{"d":0.78,"r":460,"k":"2 V vs. PZC"},{"d":0.85,"r":640,"k":"2 V vs. PZC"},{"d":0.95,"r":950,"k":"2 V vs. PZC"},{"d":1.0,"r":1025,"k":"2 V vs. PZC"},{"d":1.08,"r":1010,"k":"2 V vs. PZC"},{"d":1.15,"r":850,"k":"2 V vs. PZC"},{"d":1.22,"r":730,"k":"2 V vs. PZC"},{"d":1.3,"r":830,"k":"2 V vs. PZC"},{"d":1.38,"r":885,"k":"2 V vs. PZC"},{"d":1.45,"r":860,"k":"2 V vs. PZC"},{"d":1.55,"r":700,"k":"2 V vs. PZC"},{"d":1.65,"r":600,"k":"2 V vs. PZC"},{"d":1.72,"r":585,"k":"2 V vs. PZC"},{"d":1.8,"r":680,"k":"2 V vs. PZC"},{"d":1.9,"r":815,"k":"2 V vs. PZC"},{"d":2,"r":760,"k":"2 V vs. PZC"},{"d":2.1,"r":725,"k":"2 V vs. PZC"},{"d":2.2,"r":840,"k":"2 V vs. PZC"},{"d":2.28,"r":945,"k":"2 V vs. PZC"},{"d":2.35,"r":920,"k":"2 V vs. PZC"},{"d":2.5,"r":810,"k":"2 V vs. PZC"},{"d":2.6,"r":790,"k":"2 V vs. PZC"},{"d":2.8,"r":870,"k":"2 V vs. PZC"},{"d":3,"r":840,"k":"2 V vs. PZC"},{"d":3.1,"r":880,"k":"2 V vs. PZC"},{"d":3.3,"r":960,"k":"2 V vs. PZC"},{"d":3.4,"r":950,"k":"2 V vs. PZC"},{"d":3.5,"r":890,"k":"2 V vs. PZC"},{"d":3.6,"r":800,"k":"2 V vs. PZC"},{"d":3.7,"r":850,"k":"2 V vs. PZC"},{"d":3.82,"r":950,"k":"2 V vs. PZC"},{"d":3.9,"r":910,"k":"2 V vs. PZC"},{"d":4,"r":760,"k":"2 V vs. PZC"}]},
      "mark":{"type":"line","strokeWidth":1.8,"interpolate":"monotone"},"encoding":{
       "x":{"field":"d","type":"quantitative","scale":{"domain":[0,4],"nice":false},"axis":{"values":[0,1,2,3,4],"tickCount":12,"labelOverlap":false,"format":"d","title":"Distance from surface (nm)","titleFontSize":14.5,"titlePadding":3}},
       "y":{"field":"r","type":"quantitative","scale":{"domain":[0,1600],"nice":false},"axis":{"values":[0,400,800,1200,1600],"tickCount":12,"labelOverlap":false,"format":"d","title":"Density (kg m⁻³)","titleFontSize":14,"titlePadding":2}},
       "color":{"field":"k","type":"nominal","scale":{"domain":["PZC","2 V vs. PZC"],"range":["#5f7f9c","#a8505f"]},"legend":{"orient":"none","legendX":90,"legendY":8,"title":null,"labelFontSize":11.5,"symbolType":"stroke","symbolSize":730,"symbolStrokeWidth":2,"clipHeight":14,"rowPadding":2,"labelOffset":3}}}},
     {"data":{"values":[{"x":2.02,"y":1684,"t":"THF near the cathode"}]},"mark":{"type":"text","fontSize":12.5,"color":"#666"},"encoding":{"x":{"field":"x","type":"quantitative"},"y":{"field":"y","type":"quantitative"},"text":{"field":"t"}}},
     {"data":{"values":[{"x":-1.03,"y":1726,"t":"h"}]},"mark":{"type":"text","fontSize":19,"fontWeight":"bold","color":"#111"},"encoding":{"x":{"field":"x","type":"quantitative"},"y":{"field":"y","type":"quantitative"},"text":{"field":"t"}}}
    ]},
   {"width":202,"height":190,
    "layer":[
     {"data":{"values":[
      {"g":"PZC","s":"BF₄⁻","m":0.2},{"g":"PZC","s":"DFOB⁻","m":1.5},{"g":"PZC","s":"PF₆⁻","m":0.2},{"g":"PZC","s":"THF","m":98},
      {"g":"2V vs. PZC","s":"BF₄⁻","m":3},{"g":"2V vs. PZC","s":"DFOB⁻","m":9},{"g":"2V vs. PZC","s":"PF₆⁻","m":5},{"g":"2V vs. PZC","s":"THF","m":83}]},
      "mark":{"type":"bar","stroke":"#aaa","strokeWidth":1},"encoding":{
       "x":{"field":"g","type":"nominal","sort":["PZC","2V vs. PZC"],"scale":{"domain":["PZC","2V vs. PZC"],"paddingInner":0.2,"paddingOuter":0.1},"axis":{"labelAngle":0,"title":null,"labelPadding":12,"tickSize":4}},
       "xOffset":{"field":"s","sort":["BF₄⁻","DFOB⁻","PF₆⁻","THF"],"scale":{"padding":0}},
       "y":{"field":"m","type":"quantitative","scale":{"domain":[0,110],"nice":false},"axis":{"values":[0,20,40,60,80,100],"tickCount":12,"labelOverlap":false,"title":"Molecular content (%)","titleFontSize":14,"titlePadding":3}},
       "color":{"field":"s","type":"nominal","scale":{"domain":["BF₄⁻","DFOB⁻","PF₆⁻","THF"],"range":["#eec46a","#93a8bf","#d27576","#b6e35c"]},"legend":{"orient":"none","legendX":7,"legendY":8,"title":null,"labelFontSize":10.5,"symbolType":"M-1,-0.45H1V0.45H-1Z","symbolSize":300,"symbolStrokeColor":"#aaa","symbolStrokeWidth":1,"clipHeight":14,"rowPadding":2.4,"labelOffset":3}}}},
     {"data":{"values":[{"g":"PZC","y":118.7,"t":"i"}]},"mark":{"type":"text","dx":-75,"fontSize":19,"fontWeight":"bold","color":"#111"},"encoding":{"x":{"field":"g","type":"nominal","sort":["PZC","2V vs. PZC"]},"y":{"field":"y","type":"quantitative"},"text":{"field":"t"}}}
    ]}
  ]}
 ]}
]
}
